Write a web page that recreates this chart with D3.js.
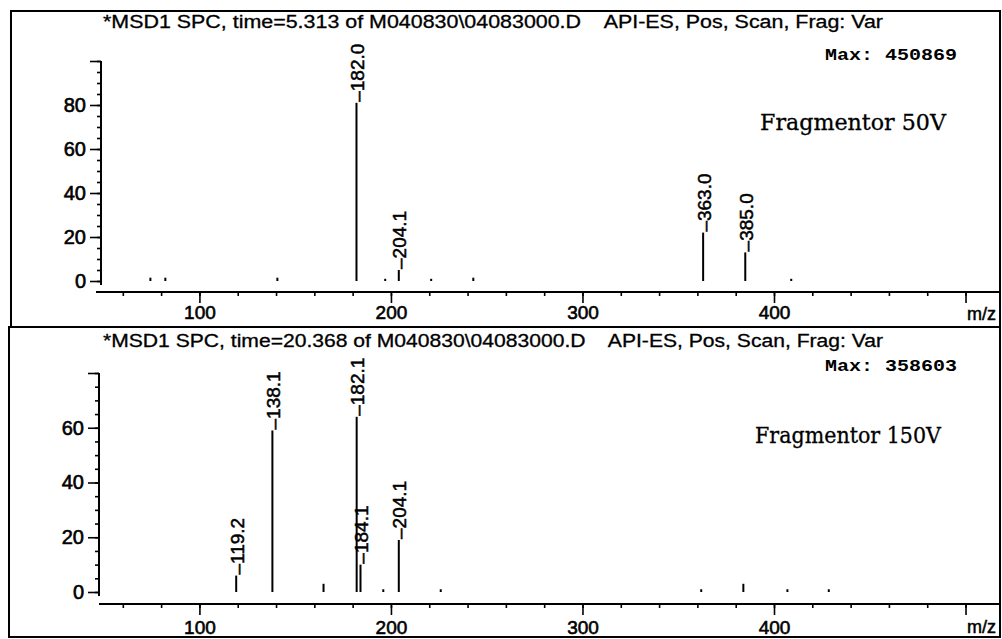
<!DOCTYPE html>
<html>
<head>
<meta charset="utf-8">
<script src="https://cdn.jsdelivr.net/npm/d3@7"></script>
<style>
  body { margin: 0; background: #fff; }
  svg { display: block; }
  text { font-family: "Liberation Sans", Arial, sans-serif; fill: #000; }
</style>
</head>
<body>
<div id="chart"></div>
<script>
// spectrum 1 : fragmentor 50V (m/z, relative abundance)
const mzTop = [74.4, 82.2, 140.7, 182.0, 197, 204.1, 221, 243, 363.0, 385.0, 409]
const abTop = [1.5, 1.5, 1.5, 81, 1, 5, 1, 1.5, 22, 13, 1]
const labelsTop = ["182.0", "204.1", "363.0", "385.0"]

// spectrum 2 : fragmentor 150V
const mzBot = [119.2, 138.1, 164.8, 182.1, 184.1, 196, 204.1, 226, 362, 384, 407, 428.6]
const abBot = [6, 59, 3, 64, 10, 1, 19, 1, 1, 3, 1, 1]
const labelsBot = ["119.2", "138.1", "182.1", "184.1", "204.1"]

const xMajor = [100, 200, 300, 400, 500]
const xMinor = d3.range(60, 520, 20)

const titles = [
  "*MSD1 SPC, time=5.313 of M040830\\04083000.D    API-ES, Pos, Scan, Frag: Var",
  "*MSD1 SPC, time=20.368 of M040830\\04083000.D    API-ES, Pos, Scan, Frag: Var"
]
const maxTexts = ["Max: 450869", "Max: 358603"]
const fragTexts = ["Fragmentor 50V", "Fragmentor 150V"]

const svg = d3.select("#chart").append("svg")
  .attr("width", 1002)
  .attr("height", 639)

// panel layout (hand measured on the print)
const panels = [
  { box: [11, 11, 989, 316], yTop: 100, y0: 281, yMax: 61, axisY: 292, yAxisX: 101, xMin: 96,
    titleY: 28, maxY: 60, fragX: 760, fragY: 130, xLabPad: 3, mzY: 320,
    mz: mzTop, ab: abTop, labels: labelsTop, title: titles[0], max: maxTexts[0], frag: fragTexts[0] },
  { box: [9, 327, 991, 310], yTop: 80, y0: 592, yMax: 373, axisY: 604, yAxisX: 99, xMin: 99,
    titleY: 347, maxY: 371, fragX: 755, fragY: 443, xLabPad: 6, mzY: 633,
    mz: mzBot, ab: abBot, labels: labelsBot, title: titles[1], max: maxTexts[1], frag: fragTexts[1] }
]

const x = d3.scaleLinear().domain([46, 518]).range([96, 1000])

panels.forEach(function(p) {
  const g = svg.append("g")

  // frame
  g.append("rect")
    .attr("x", p.box[0]).attr("y", p.box[1])
    .attr("width", p.box[2]).attr("height", p.box[3])
    .attr("fill", "none").attr("stroke", "#000").attr("stroke-width", 2)

  const y = d3.scaleLinear().domain([0, p.yTop]).range([p.y0, p.yMax])

  // header texts
  g.append("text")
    .attr("x", 103).attr("y", p.titleY)
    .attr("textLength", 780).attr("lengthAdjust", "spacingAndGlyphs")
    .style("white-space", "pre")
    .style("font-size", "18px").style("stroke", "#000").style("stroke-width", 0.3)
    .text(p.title)

  g.append("text")
    .attr("x", 825).attr("y", p.maxY)
    .attr("textLength", 132).attr("lengthAdjust", "spacingAndGlyphs")
    .style("white-space", "pre")
    .style("font-family", "'Liberation Mono', 'DejaVu Sans Mono', monospace")
    .style("font-weight", "bold").style("font-size", "17px")
    .text(p.max)

  g.append("text")
    .attr("x", p.fragX).attr("y", p.fragY)
    .attr("textLength", 186).attr("lengthAdjust", "spacingAndGlyphs")
    .style("font-family", "'DejaVu Serif', 'Liberation Serif', serif")
    .style("font-size", "22px").style("stroke", "#000").style("stroke-width", 0.3)
    .text(p.frag)

  // y axis
  const yMinorAxis = d3.axisLeft(y).tickValues(d3.range(0, p.yTop + 1, 5)).tickSize(4).tickFormat("")
  const yMajorAxis = d3.axisLeft(y).tickValues(d3.range(0, p.yTop + 1, 20)).tickSize(11).tickPadding(4)
    .tickFormat(function(d) { return d === p.yTop ? "" : d })

  const ga = g.append("g").attr("transform", "translate(" + p.yAxisX + ",0)")
  ga.append("g").call(yMinorAxis)
  ga.append("g").call(yMajorAxis)
  ga.selectAll(".domain").remove()
  ga.append("line")
    .attr("x1", 0).attr("x2", 0)
    .attr("y1", y(0) + 4).attr("y2", y(p.yTop))
    .attr("stroke", "#000").attr("stroke-width", 2)
  ga.selectAll(".tick line").attr("stroke-width", 1.6)
  ga.selectAll("text")
    .style("font-family", "'Liberation Sans', Arial, sans-serif")
    .style("font-size", "20px").style("stroke", "#000").style("stroke-width", 0.6)

  // x axis
  const xMinorAxis = d3.axisBottom(x).tickValues(xMinor).tickSize(4).tickFormat("")
  const xMajorAxis = d3.axisBottom(x).tickValues(xMajor).tickSize(11).tickPadding(p.xLabPad)
    .tickFormat(function(d) { return d === 500 ? "" : d })

  const gx = g.append("g").attr("transform", "translate(0," + p.axisY + ")")
  gx.append("g").call(xMinorAxis)
  gx.append("g").call(xMajorAxis)
  gx.selectAll(".domain").remove()
  gx.append("line")
    .attr("x1", p.xMin).attr("x2", 1000)
    .attr("y1", 0).attr("y2", 0)
    .attr("stroke", "#000").attr("stroke-width", 2)
  gx.selectAll(".tick line").attr("stroke-width", 1.6)
  gx.selectAll("text")
    .style("font-family", "'Liberation Sans', Arial, sans-serif")
    .style("font-size", "19px").style("stroke", "#000").style("stroke-width", 0.6)

  g.append("text")
    .attr("x", 967).attr("y", p.mzY)
    .style("font-size", "18px").style("stroke", "#000").style("stroke-width", 0.5)
    .text("m/z")

  // peaks
  const peaks = p.mz.map(function(m, i) { return { mz: m, ab: p.ab[i] } })

  g.append("g")
    .selectAll("line")
    .data(peaks)
    .enter()
    .append("line")
      .attr("x1", function(d) { return x(d.mz) })
      .attr("x2", function(d) { return x(d.mz) })
      .attr("y1", y(0))
      .attr("y2", function(d) { return y(d.ab) })
      .attr("stroke", "#000")
      .attr("stroke-width", 2)

  // peak labels, rotated, starting at the top of the peak
  g.append("g")
    .selectAll("text")
    .data(peaks.filter(function(d) { return p.labels.indexOf(d.mz.toFixed(1)) >= 0 }))
    .enter()
    .append("text")
      .attr("transform", function(d) { return "translate(" + (x(d.mz) + 1) + "," + (y(d.ab) - 1) + ") rotate(-90)" })
      .attr("dominant-baseline", "central")
      .style("font-size", "19px").style("stroke", "#000").style("stroke-width", 0.5)
      .text(function(d) { return "\u2013" + d.mz.toFixed(1) })
})
</script>
</body>
</html>
